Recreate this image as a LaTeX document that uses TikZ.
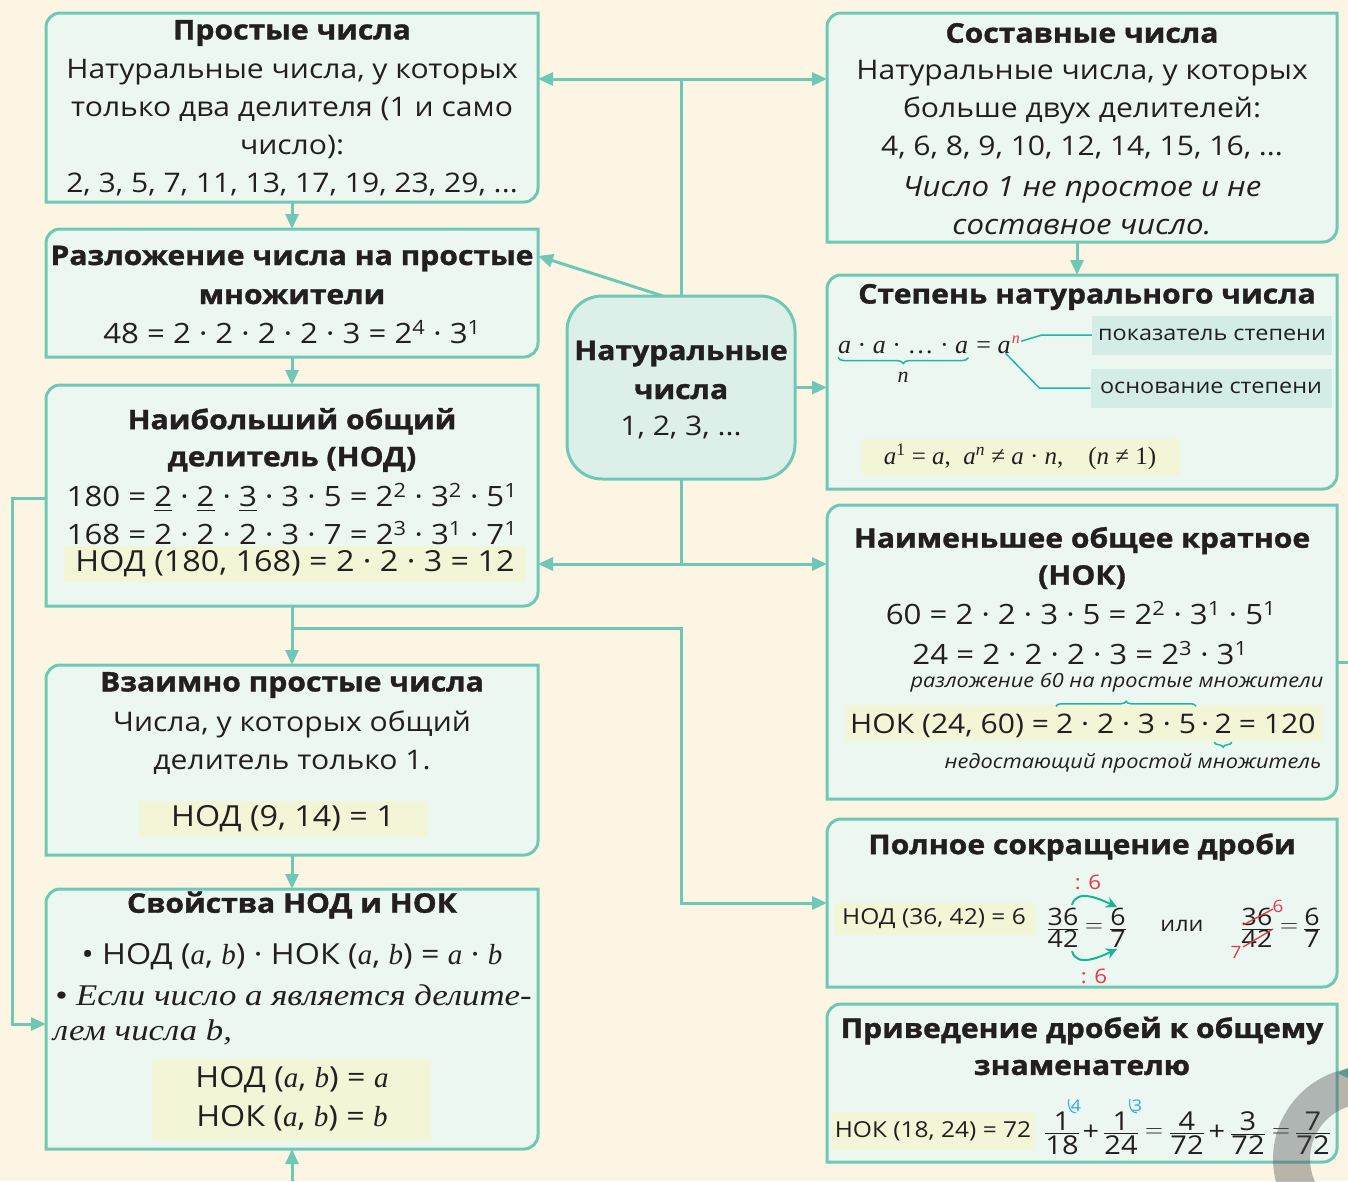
\documentclass[tikz,border=0pt]{standalone}
\usepackage{amsmath}
\usepackage{fontspec}
\setmainfont{Open Sans}[FakeStretch=1.115, BoldFeatures={FakeBold=1.3}]
\newfontfamily\srf{Liberation Serif}
\newfontfamily\srfw{Liberation Serif}[FakeStretch=1.16]
\usetikzlibrary{arrows.meta,decorations.pathreplacing,calc}
\definecolor{bg}{HTML}{FCF5E4}
\definecolor{bfill}{HTML}{EDF7F2}
\definecolor{bord}{HTML}{6FC8B5}
\definecolor{cfill}{HTML}{DCEFE9}
\definecolor{hl}{HTML}{F2F6D7}
\definecolor{lblc}{HTML}{D3ECE5}
\definecolor{txt}{HTML}{231F20}
\definecolor{rd}{HTML}{E63946}
\definecolor{bl}{HTML}{2AA8E0}
\definecolor{arcc}{HTML}{1BB394}
\definecolor{lnk}{HTML}{22B5A5}
\newcommand\fs[2]{\fontsize{#1}{#2}\selectfont}
\newcommand\va[1]{{\srf\itshape #1}}
\newcommand\sps[1]{\textsuperscript{#1}}
\newcommand\fr[2]{$\genfrac{}{}{1pt}{1}{\mbox{#1}}{\mbox{#2}}$}
\newcommand\gap[1]{\hbox to #1{}}
\tikzset{
 boxn/.style={rectangle, inner sep=0pt, outer sep=0pt},
 frame/.style={draw=bord, line width=3pt, fill=bfill},
 conn/.style={draw=bord, line width=3pt},
 arr/.style={-{Triangle[length=15pt,width=13pt]}},
 barr/.style={{Triangle[length=15pt,width=13pt]}-{Triangle[length=15pt,width=13pt]}},
 ttl/.style={font=\fs{27}{38}\bfseries, text=txt, align=center, inner sep=0pt},
 bdy/.style={font=\fs{27}{38}, text=txt, align=center, inner sep=0pt},
 eqn/.style={font=\fs{28}{36}, text=txt, align=center, inner sep=0pt},
 hlbox/.style={fill=hl, draw=none},
 lblbox/.style={fill=lblc, draw=none, minimum width=240pt, minimum height=39pt, inner sep=0pt, font=\fs{21}{26}, text=txt},
 lnkline/.style={draw=lnk, line width=1.5pt},
 arcar/.style={draw=arcc, line width=2pt, -{Stealth[length=11pt,width=11pt]}},
 brc/.style={draw=lnk, line width=1.5pt, decorate},
 frc/.style={font=\fs{24}{28}, text=txt, inner sep=0pt},
 frd/.style={font=\fs{26}{30}, text=txt, inner sep=0pt},
 rlab/.style={font=\fs{20}{24}, text=rd, inner sep=0pt},
 nok/.style={font=\fs{27}{32}, text=txt, inner sep=0pt, anchor=base west},
}
\newcommand\mkbox[5]{%
 \node[boxn, minimum width={#4pt-#2pt}, minimum height={#5pt-#3pt}] (#1) at ({(#2+#4)/2},{-(#3+#5)/2}) {};
 \draw[frame] ([yshift=-14pt]#1.north west) arc[start angle=180,end angle=90,radius=14pt] -- (#1.north east) -- ([yshift=14pt]#1.south east) arc[start angle=0,end angle=-90,radius=14pt] -- (#1.south west) -- cycle;}
\begin{document}
\begin{tikzpicture}[x=1pt,y=1pt]
\useasboundingbox (0,0) rectangle (1348,-1181);
\fill[bg] (0,0) rectangle (1348,-1181);
% ---------- boxes
\mkbox{b1}{46}{13}{538}{202}
\mkbox{b2}{46}{229}{538}{357}
\mkbox{b3}{46}{385}{538}{606}
\mkbox{b4}{46}{665}{538}{855}
\mkbox{b5}{46}{889}{538}{1149}
\mkbox{r1}{827}{13}{1337}{242}
\mkbox{r2}{827}{275}{1337}{489}
\mkbox{r3}{827}{505}{1337}{799}
\mkbox{r4}{827}{819}{1337}{987}
\mkbox{r5}{827}{1004}{1337}{1162}
\node[rectangle, rounded corners=35pt, draw=bord, line width=3pt, fill=cfill, minimum width=228pt, minimum height=183pt, inner sep=0pt, outer sep=0pt] (cn) at (681,-387.5) {};
% ---------- connectors
\draw[conn,arr] (b1.south) -- (b2.north);
\draw[conn,arr] (b2.south) -- (b3.north);
\draw[conn,arr] (b3.south) -- (b4.north);
\draw[conn,arr] (b4.south) -- (b5.north);
\coordinate (bot) at (292,-1181);
\draw[conn,arr] (bot) -- (b5.south);
\coordinate (lp1) at (12,-498);
\coordinate (lp2) at (12,-1024);
\draw[conn,arr] (b3.west |- lp1) -- (lp1) -- (lp2) -- (b5.west |- lp2);
\coordinate (ct) at (681,-79);
\draw[conn] (cn.north) -- (ct);
\draw[conn,barr] (b1.east |- ct) -- (r1.west |- ct);
\draw[conn,arr] ([xshift=-18pt]cn.north) -- ([yshift=37pt]b2.east);
\draw[conn,arr] (cn.east) -- (cn.east -| r2.west);
\coordinate (cb) at (681,-564);
\draw[conn] (cn.south) -- (cb);
\draw[conn,barr] (b3.east |- cb) -- (r3.west |- cb);
\draw[conn,arr] ([xshift=-5pt]r1.south) -- ([xshift=-5pt]r2.north);
\coordinate (br1) at (292,-628);
\coordinate (br2) at (681,-628);
\coordinate (br3) at (681,-903);
\draw[conn,arr] (br1) -- (br2) -- (br3) -- (r4.west |- br3);
\coordinate (ex1) at (1348,-662);
\draw[conn] (r3.east |- ex1) -- (ex1);
\coordinate (ex2) at (1350,-1073);
\draw[conn,arr] (ex2) -- (r5.east |- ex2);
% ---------- center
\node[font=\fs{27}{39}\bfseries, text=txt, align=center, inner sep=0pt] (cnt) at (681,-370) {Натуральные\\числа};
\node[font=\fs{27}{32}, text=txt, inner sep=0pt] (cnn) at (681,-427) {1, 2, 3, ...};
% ---------- b1
\node[ttl] (t1) at (292,-33) {Простые числа};
\node[bdy] (x1) at (292,-128) {Натуральные числа, у которых\\только два делителя (1 и само\\число):\\2, 3, 5, 7, 11, 13, 17, 19, 23, 29, ...};
% ---------- b2
\node[ttl, font=\fs{27}{39}\bfseries] (t2) at (292,-275) {Разложение числа на простые\\множители};
\node[eqn] (x2) at (292,-332) {48 = 2 · 2 · 2 · 2 · 3 = 2\sps{4} · 3\sps{1}};
% ---------- b3
\node[ttl, font=\fs{27}{37}\bfseries] (t3) at (292,-440) {Наибольший общий\\делитель (НОД)};
\fill[hlbox] (64,-546) rectangle (526,-582);
\node[eqn] (x3a) at (292,-498) {180 = \underline{2} · \underline{2} · \underline{3} · 3 · 5 = 2\sps{2} · 3\sps{2} · 5\sps{1}};
\node[eqn] (x3b) at (292,-533) {168 = 2 · 2 · 2 · 3 · 7 = 2\sps{3} · 3\sps{1} · 7\sps{1}};
\node[eqn, font=\fs{29}{34}] (x3c) at (295,-564) {НОД (180, 168) = 2 · 2 · 3 = 12};
% ---------- b4
\node[ttl] (t4) at (292,-685) {Взаимно простые числа};
\node[bdy] (x4) at (292,-743) {Числа, у которых общий\\делитель только 1.};
\fill[hlbox] (139,-801) rectangle (427,-837);
\node[bdy, font=\fs{29}{34}] (x4b) at (283,-819) {НОД (9, 14) = 1};
% ---------- b5
\node[ttl] (t5) at (292,-905) {Свойства НОД и НОК};
\node[eqn, font=\fs{29}{36}] (x5a) at (292,-957) {• НОД (\va{a}, \va{b}) · НОК (\va{a}, \va{b}) = \va{a} · \va{b}};
\node[font=\fs{30}{36}\srfw\itshape, text=txt, inner sep=0pt, anchor=west] (x5b) at (55,-995) {• Если число a является делите-};
\node[font=\fs{30}{36}\srfw\itshape, text=txt, inner sep=0pt, anchor=west] (x5c) at (53,-1032) {лем числа b,};
\fill[hlbox] (152,-1059) rectangle (431,-1141);
\node[eqn, font=\fs{29}{36}] (x5d) at (292,-1080) {НОД (\va{a}, \va{b}) = \va{a}};
\node[eqn, font=\fs{29}{36}] (x5e) at (292,-1118) {НОК (\va{a}, \va{b}) = \va{b}};
% ---------- r1
\node[ttl] (t6) at (1082,-33) {Составные числа};
\node[bdy] (x6) at (1082,-110) {Натуральные числа, у которых\\больше двух делителей:\\4, 6, 8, 9, 10, 12, 14, 15, 16, ...};
\node[bdy, font=\fs{28}{38}\itshape] (x6b) at (1082,-206) {Число 1 не простое и не\\составное число.};
% ---------- r2
\node[ttl] (t7) at (1087,-297) {Степень натурального числа};
\node[font=\fs{26}{30}\srf, text=txt, inner sep=0pt, anchor=base west] (pwa) at (838,-353) {\itshape a\upshape\ · \itshape a\upshape\ · … · \itshape a};
\node[font=\fs{26}{30}\srf, text=txt, inner sep=0pt, anchor=base west] (pwb) at (pwa.base east) {\gap{0.3em}= \itshape a};
\node[font=\fs{16}{20}\srf\itshape, text=rd, inner sep=0pt, anchor=base west] (pn) at ([shift={(1pt,10pt)}]pwb.base east) {n};
\draw[brc, decoration={brace, mirror, amplitude=6pt}] ([yshift=-4pt]pwa.south west) -- ([yshift=-4pt]pwa.south east);
\node[font=\fs{22}{26}\srf\itshape, text=txt, inner sep=0pt] (pbn) at ([yshift=-24pt]pwa.south) {n};
\node[lblbox] (lb1) at (1212,-335) {показатель степени};
\node[lblbox, minimum width=241pt] (lb2) at (1211,-388) {основание степени};
\draw[lnkline] ([shift={(1pt,-2pt)}]pn.east) -- ([xshift=-50pt]lb1.west) -- (lb1.west);
\draw[lnkline] ([xshift=-5pt]pwb.south east) -- ([xshift=-51pt]lb2.west) -- (lb2.west);
\fill[hlbox] (862,-439) rectangle (1180,-475);
\node[font=\fs{25}{28}\srf, text=txt, inner sep=0pt] (x7) at (1020,-457) {\itshape a\upshape\sps{1} = \itshape a\upshape,\enspace \itshape a\sps{n}\upshape\ ≠ \itshape a\upshape\ · \itshape n\upshape,\quad (\itshape n\upshape\ ≠ 1)};
% ---------- r3
\node[ttl, font=\fs{27}{37}\bfseries] (t8) at (1082,-558) {Наименьшее общее кратное\\(НОК)};
\node[eqn] (x8a) at (1081,-613) {60 = 2 · 2 · 3 · 5 = 2\sps{2} · 3\sps{1} · 5\sps{1}};
\node[eqn] (x8b) at (1080,-653) {24 = 2 · 2 · 2 · 3 = 2\sps{3} · 3\sps{1}};
\node[font=\fs{19.5}{24}\itshape, text=txt, inner sep=0pt] (x8c) at (1117,-683) {разложение 60 на простые множители};
\fill[hlbox] (846,-705) rectangle (1322,-741);
\node[nok] (k1) at (850,-733) {НОК (24, 60) =\gap{0.25em}};
\node[nok] (k2) at (k1.base east) {2 · 2 · 3 · 5};
\node[nok] (k3) at (k2.base east) {\gap{0.18em}·\gap{0.18em}};
\node[nok] (k4) at (k3.base east) {2};
\node[nok] (k5) at (k4.base east) {\gap{0.25em}= 120};
\draw[brc, decoration={brace, amplitude=5pt}] ([yshift=7pt]k2.north west) -- ([yshift=7pt]k2.north east);
\draw[brc, decoration={brace, mirror, amplitude=5pt}] ([yshift=-9pt]k4.south west) -- ([yshift=-9pt]k4.south east);
\node[font=\fs{19.5}{24}\itshape, text=txt, inner sep=0pt] (x8d) at (1133,-763) {недостающий простой множитель};
% ---------- r4
\node[ttl] (t9) at (1082,-847) {Полное сокращение дроби};
\fill[hlbox] (834,-903) rectangle (1035,-935);
\node[font=\fs{22}{26}, text=txt, inner sep=0pt] (x9) at (934,-919) {НОД (36, 42) = 6};
\node[frc] (fa) at (1063,-928) {\fr{36}{42}};
\node[frc] (eqa) at (1094,-928) {$=$};
\node[frc] (fb) at (1118,-928) {\fr{6}{7}};
\node[font=\fs{21}{26}, text=txt, inner sep=0pt] (ili) at (1182,-926) {или};
\node[frc] (fc) at (1257,-928) {\fr{36}{42}};
\node[frc] (eqc) at (1289,-928) {$=$};
\node[frc] (fd) at (1312,-928) {\fr{6}{7}};
\draw[arcar] ([shift={(9pt,3pt)}]fa.north) to[out=75,in=155] ([shift={(-1pt,1pt)}]fb.north);
\draw[arcar] ([shift={(9pt,-3pt)}]fa.south) to[out=-75,in=-155] ([shift={(-1pt,-1pt)}]fb.south);
\node[rlab] (d1) at (1088,-882) {: 6};
\node[rlab] (d2) at (1094,-976) {: 6};
\draw[rd, line width=1.3pt] ([shift={(-14pt,3pt)}]fc.center) -- ([shift={(16pt,19pt)}]fc.center);
\draw[rd, line width=1.3pt] ([shift={(-14pt,-19pt)}]fc.center) -- ([shift={(16pt,-1pt)}]fc.center);
\node[font=\fs{17}{20}, text=rd, inner sep=0pt] (s6) at ([shift={(21pt,22pt)}]fc.center) {6};
\node[font=\fs{17}{20}, text=rd, inner sep=0pt] (s7) at ([shift={(-21pt,-24pt)}]fc.center) {7};
% ---------- r5
\node[ttl, font=\fs{27}{37}\bfseries] (t10) at (1082,-1046) {Приведение дробей к общему\\знаменателю};
\fill[hlbox] (832,-1112) rectangle (1034,-1150);
\node[font=\fs{22}{26}, text=txt, inner sep=0pt] (x10) at (933,-1131) {НОК (18, 24) = 72};
\node[frd] (g1) at (1062,-1133) {\fr{1}{18}};
\node[frd] (q1) at (1091,-1133) {+};
\node[frd] (g2) at (1121,-1133) {\fr{1}{24}};
\node[frd] (q2) at (1154,-1133) {$=$};
\node[frd] (g3) at (1187,-1133) {\fr{4}{72}};
\node[frd] (q3) at (1217,-1133) {+};
\node[frd] (g4) at (1248,-1133) {\fr{3}{72}};
\node[frd] (q4) at (1281,-1133) {$=$};
\node[frd] (g5) at (1313,-1133) {\fr{7}{72}};
\node[font=\fs{16}{18}, text=bl, inner sep=0pt] (m4) at (1076,-1106) {4};
\node[font=\fs{16}{18}, text=bl, inner sep=0pt] (m3) at (1137,-1106) {3};
\draw[bl, line width=1pt] ([shift={(-7pt,7pt)}]m4.center) .. controls +(-2pt,-8pt) and +(-5pt,0pt) .. ([shift={(0pt,-7pt)}]m4.center);
\draw[bl, line width=1pt] ([shift={(-7pt,7pt)}]m3.center) .. controls +(-2pt,-8pt) and +(-5pt,0pt) .. ([shift={(0pt,-7pt)}]m3.center);
% ---------- grey ring
\begin{scope}
\clip (0,0) rectangle (1348,-1181);
\fill[black!40!gray, opacity=0.38, even odd rule] (1365,-1159) circle[radius=92pt] (1365,-1159) circle[radius=55pt];
\end{scope}
\end{tikzpicture}
\end{document}
